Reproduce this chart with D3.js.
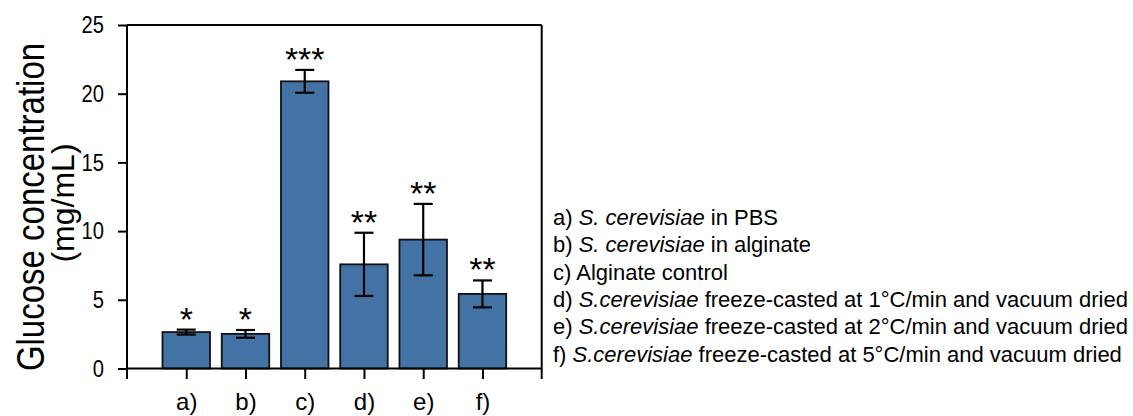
<!DOCTYPE html>
<html>
<head>
<meta charset="utf-8">
<script src="https://cdn.jsdelivr.net/npm/d3@7"></script>
<style>
  html, body { margin: 0; padding: 0; background: #fff; }
  svg text { font-family: "Liberation Sans", Arial, sans-serif; fill: #000; }
</style>
</head>
<body>
<svg id="chart" width="1133" height="416"></svg>
<script>
const categories = ["a)", "b)", "c)", "d)", "e)", "f)"];
const means = [2.65, 2.52, 20.9, 7.58, 9.38, 5.43];
const errors = [0.18, 0.28, 0.83, 2.3, 2.6, 0.98];
const stars = ["*", "*", "***", "**", "**", "**"];
const yTicks = [0, 5, 10, 15, 20, 25];
const legendItems = [
  ["a) ", "S. cerevisiae", " in PBS"],
  ["b) ", "S. cerevisiae", " in alginate"],
  ["c) Alginate control", "", ""],
  ["d) ", "S.cerevisiae", " freeze-casted at 1°C/min and vacuum dried"],
  ["e) ", "S.cerevisiae", " freeze-casted at 2°C/min and vacuum dried"],
  ["f) ", "S.cerevisiae", " freeze-casted at 5°C/min and vacuum dried"]
];

const svg = d3.select("#chart");
const mLeft = 127, mRight = 541.7, mTop = 25, mBottom = 368.5;

const x = d3.scalePoint().domain(categories).range([mLeft, mRight]).padding(1);
const y = d3.scaleLinear().domain([0, 25]).range([mBottom, mTop]);
const barW = 47.5;

// bars
svg.append("g").selectAll("rect").data(categories).join("rect")
  .attr("x", d => x(d) - barW / 2)
  .attr("y", (d, i) => y(means[i]))
  .attr("width", barW)
  .attr("height", (d, i) => y(0) - y(means[i]))
  .attr("fill", "#4372a5")
  .attr("stroke", "#111")
  .attr("stroke-width", 1.8);

// error bars
const eg = svg.append("g").attr("stroke", "#000").attr("stroke-width", 2.2);
const capW = 19;
categories.forEach((c, i) => {
  const cx = x(c), y1 = y(means[i] + errors[i]), y0 = y(means[i] - errors[i]);
  eg.append("line").attr("x1", cx).attr("x2", cx).attr("y1", y1).attr("y2", y0);
  eg.append("line").attr("x1", cx - capW / 2).attr("x2", cx + capW / 2).attr("y1", y1).attr("y2", y1);
  eg.append("line").attr("x1", cx - capW / 2).attr("x2", cx + capW / 2).attr("y1", y0).attr("y2", y0);
});

// stars
svg.append("g").selectAll("text").data(categories).join("text")
  .attr("x", d => x(d))
  .attr("y", (d, i) => y(means[i] + errors[i]) + 1)
  .attr("text-anchor", "middle")
  .attr("font-size", 34)
  .text((d, i) => stars[i]);

// frame
const frame = svg.append("g").attr("stroke", "#000").attr("stroke-width", 2).attr("fill", "none");
frame.append("line").attr("x1", mLeft).attr("x2", mRight).attr("y1", mTop).attr("y2", mTop);
frame.append("line").attr("x1", mRight).attr("x2", mRight).attr("y1", mTop).attr("y2", mBottom + 10.5);

// y axis
const yAxis = svg.append("g").attr("transform", `translate(${mLeft},0)`)
  .call(d3.axisLeft(y).tickValues(yTicks).tickSize(9));
yAxis.select(".domain").attr("d", `M0,${mTop}V${mBottom + 10.5}`);
yAxis.selectAll("line, path").attr("stroke", "#000").attr("stroke-width", 2);
const sx = 0.84;
yAxis.selectAll("text")
  .attr("font-size", 24)
  .attr("font-family", "Liberation Sans, Arial, sans-serif")
  .attr("x", -23 / sx)
  .attr("transform", `scale(${sx},1)`);

// x axis
const xAxis = svg.append("g").attr("transform", `translate(0,${mBottom})`)
  .call(d3.axisBottom(x).tickSize(10.5).tickPadding(14));
xAxis.select(".domain").attr("d", `M${mLeft},0H${mRight}`);
xAxis.selectAll("line, path").attr("stroke", "#000").attr("stroke-width", 2);
xAxis.selectAll("text").attr("font-size", 24).attr("font-family", "Liberation Sans, Arial, sans-serif");

// y label
svg.append("text")
  .attr("transform", `translate(44,207) rotate(-90) scale(1,1.18)`)
  .attr("text-anchor", "middle")
  .attr("font-size", 33)
  .text("Glucose concentration");
svg.append("text")
  .attr("transform", `translate(74,203) rotate(-90)`)
  .attr("text-anchor", "middle")
  .attr("font-size", 32)
  .text("(mg/mL)");

// legend
const lg = svg.append("g");
legendItems.forEach((it, i) => {
  const t = lg.append("text").attr("x", 553).attr("y", 225 + i * 27.3).attr("font-size", 22);
  t.append("tspan").text(it[0]);
  if (it[1]) t.append("tspan").attr("font-style", "italic").text(it[1]);
  if (it[2]) t.append("tspan").text(it[2]);
});
</script>
</body>
</html>
